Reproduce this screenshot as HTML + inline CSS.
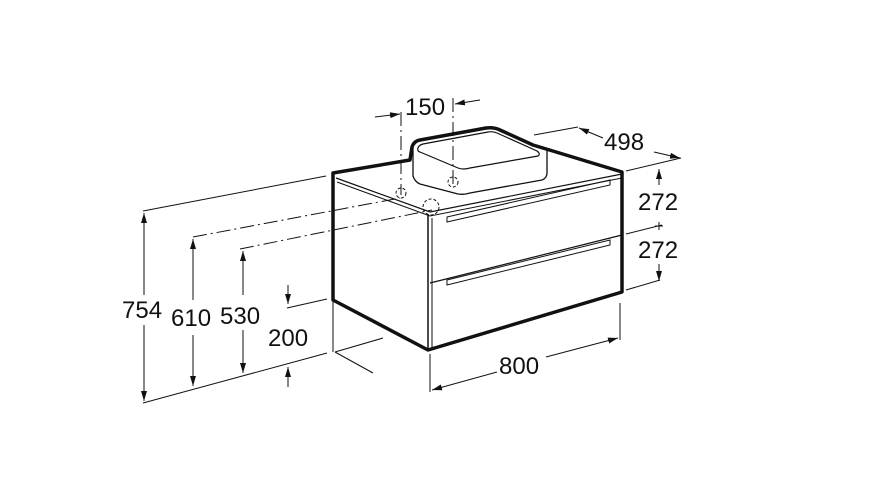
<!DOCTYPE html>
<html><head><meta charset="utf-8"><style>
html,body{margin:0;padding:0;background:#fff}
svg{display:block}
text{font-family:"Liberation Sans",Arial,sans-serif;font-size:24px;fill:#111}
</style></head><body>
<svg width="896" height="499" viewBox="0 0 896 499" xmlns="http://www.w3.org/2000/svg">
<defs>
<marker id="a" viewBox="0 0 10 6" refX="10" refY="3" markerWidth="10" markerHeight="6" markerUnits="userSpaceOnUse" orient="auto"><path d="M0,0L10,3L0,6z" fill="#111"/></marker>
</defs>
<g fill="none" stroke="#111">
<path d="M333,173 L410,160 L412,147 Q414,141 420,140 L486,128 Q494,127 500,130 L533,145 L622,172 L622,292 L428,350 L333,300 Z" stroke-width="3.5" stroke-linejoin="round"/>
<path d="M413,143 L413,176 Q415,182 420,184 L458,194 Q464,195 470,193 L542,180 Q547,178 547,173 L547,148" stroke-width="1.3"/>
<path d="M418,148 Q419,145 423,144 L488,132 Q493,131 497,133 L537,151 Q541,154 538,156 L470,168 Q463,170 458,168 L420,152 Q417,151 418,148 Z" stroke-width="1.2"/>
<path d="M336,178 L430,212 L622,174" stroke-width="1.2"/>
<path d="M337,182 L430,216 L622,178" stroke-width="1"/>
<line x1="428" y1="214" x2="428" y2="350" stroke-width="1.5"/>
<line x1="432" y1="218" x2="432" y2="348" stroke-width="1"/>
<line x1="430" y1="283" x2="622" y2="235" stroke-width="1.2"/>
<path d="M447,217 L610,180 L610,185 L447,222 Z" stroke-width="1"/>
<path d="M447,280 L610,240 L610,245 L447,285 Z" stroke-width="1"/>
<g stroke-dasharray="14,4,2,4" stroke-width="1">
<line x1="401" y1="112" x2="401" y2="195"/>
<line x1="453" y1="98" x2="453" y2="186"/>
<line x1="193" y1="237" x2="400" y2="198"/>
<line x1="240" y1="249" x2="432" y2="210"/>
</g>
<circle cx="401" cy="193" r="5" stroke-dasharray="3,2" stroke-width="1"/>
<circle cx="453" cy="182" r="5" stroke-dasharray="3,2" stroke-width="1"/>
<circle cx="431" cy="207" r="8" stroke-dasharray="3,2" stroke-width="1"/>
<line x1="143" y1="211" x2="326" y2="176" stroke-width="1"/>
<line x1="143" y1="403" x2="327" y2="353" stroke-width="1"/>
<line x1="287" y1="308" x2="327" y2="299" stroke-width="1"/>
<line x1="335" y1="352" x2="383" y2="338" stroke-width="1"/>
<line x1="335" y1="352" x2="373" y2="373" stroke-width="1"/>
<line x1="333" y1="300" x2="333" y2="352" stroke-width="1"/>
<line x1="430" y1="354" x2="430" y2="392" stroke-width="1"/>
<line x1="620" y1="303" x2="620" y2="340" stroke-width="1"/>
<line x1="534" y1="135" x2="578" y2="127" stroke-width="1"/>
<line x1="626" y1="171" x2="681" y2="158" stroke-width="1"/>
<line x1="626" y1="234" x2="662" y2="225" stroke-width="1"/>
<line x1="626" y1="290" x2="660" y2="280" stroke-width="1"/>
<g stroke-width="1">
<line x1="144" y1="295" x2="144" y2="213" marker-end="url(#a)"/>
<line x1="144" y1="325" x2="144" y2="401" marker-end="url(#a)"/>
<line x1="193" y1="300" x2="193" y2="239" marker-end="url(#a)"/>
<line x1="193" y1="335" x2="193" y2="386" marker-end="url(#a)"/>
<line x1="243" y1="295" x2="243" y2="251" marker-end="url(#a)"/>
<line x1="243" y1="330" x2="243" y2="373" marker-end="url(#a)"/>
<line x1="288" y1="285" x2="288" y2="304" marker-end="url(#a)"/>
<line x1="288" y1="387" x2="288" y2="367" marker-end="url(#a)"/>
<line x1="375" y1="117" x2="400" y2="114" marker-end="url(#a)"/>
<line x1="480" y1="100" x2="455" y2="104" marker-end="url(#a)"/>
<line x1="603" y1="138" x2="579" y2="128" marker-end="url(#a)"/>
<line x1="654" y1="152" x2="680" y2="158" marker-end="url(#a)"/>
<line x1="659" y1="185" x2="659" y2="169" marker-end="url(#a)"/>
<line x1="659" y1="264" x2="659" y2="281" marker-end="url(#a)"/>
<line x1="655" y1="226" x2="663" y2="226"/>
<line x1="659" y1="222" x2="659" y2="230"/>
<line x1="497" y1="372" x2="432" y2="390" marker-end="url(#a)"/>
<line x1="546" y1="357" x2="618" y2="338" marker-end="url(#a)"/>
</g>
</g>
<text x="122" y="318">754</text>
<text x="171" y="326">610</text>
<text x="220" y="324">530</text>
<text x="268" y="346">200</text>
<text x="405" y="115">150</text>
<text x="604" y="150">498</text>
<text x="638" y="210">272</text>
<text x="638" y="258">272</text>
<text x="499" y="374">800</text>
</svg>
</body></html>
